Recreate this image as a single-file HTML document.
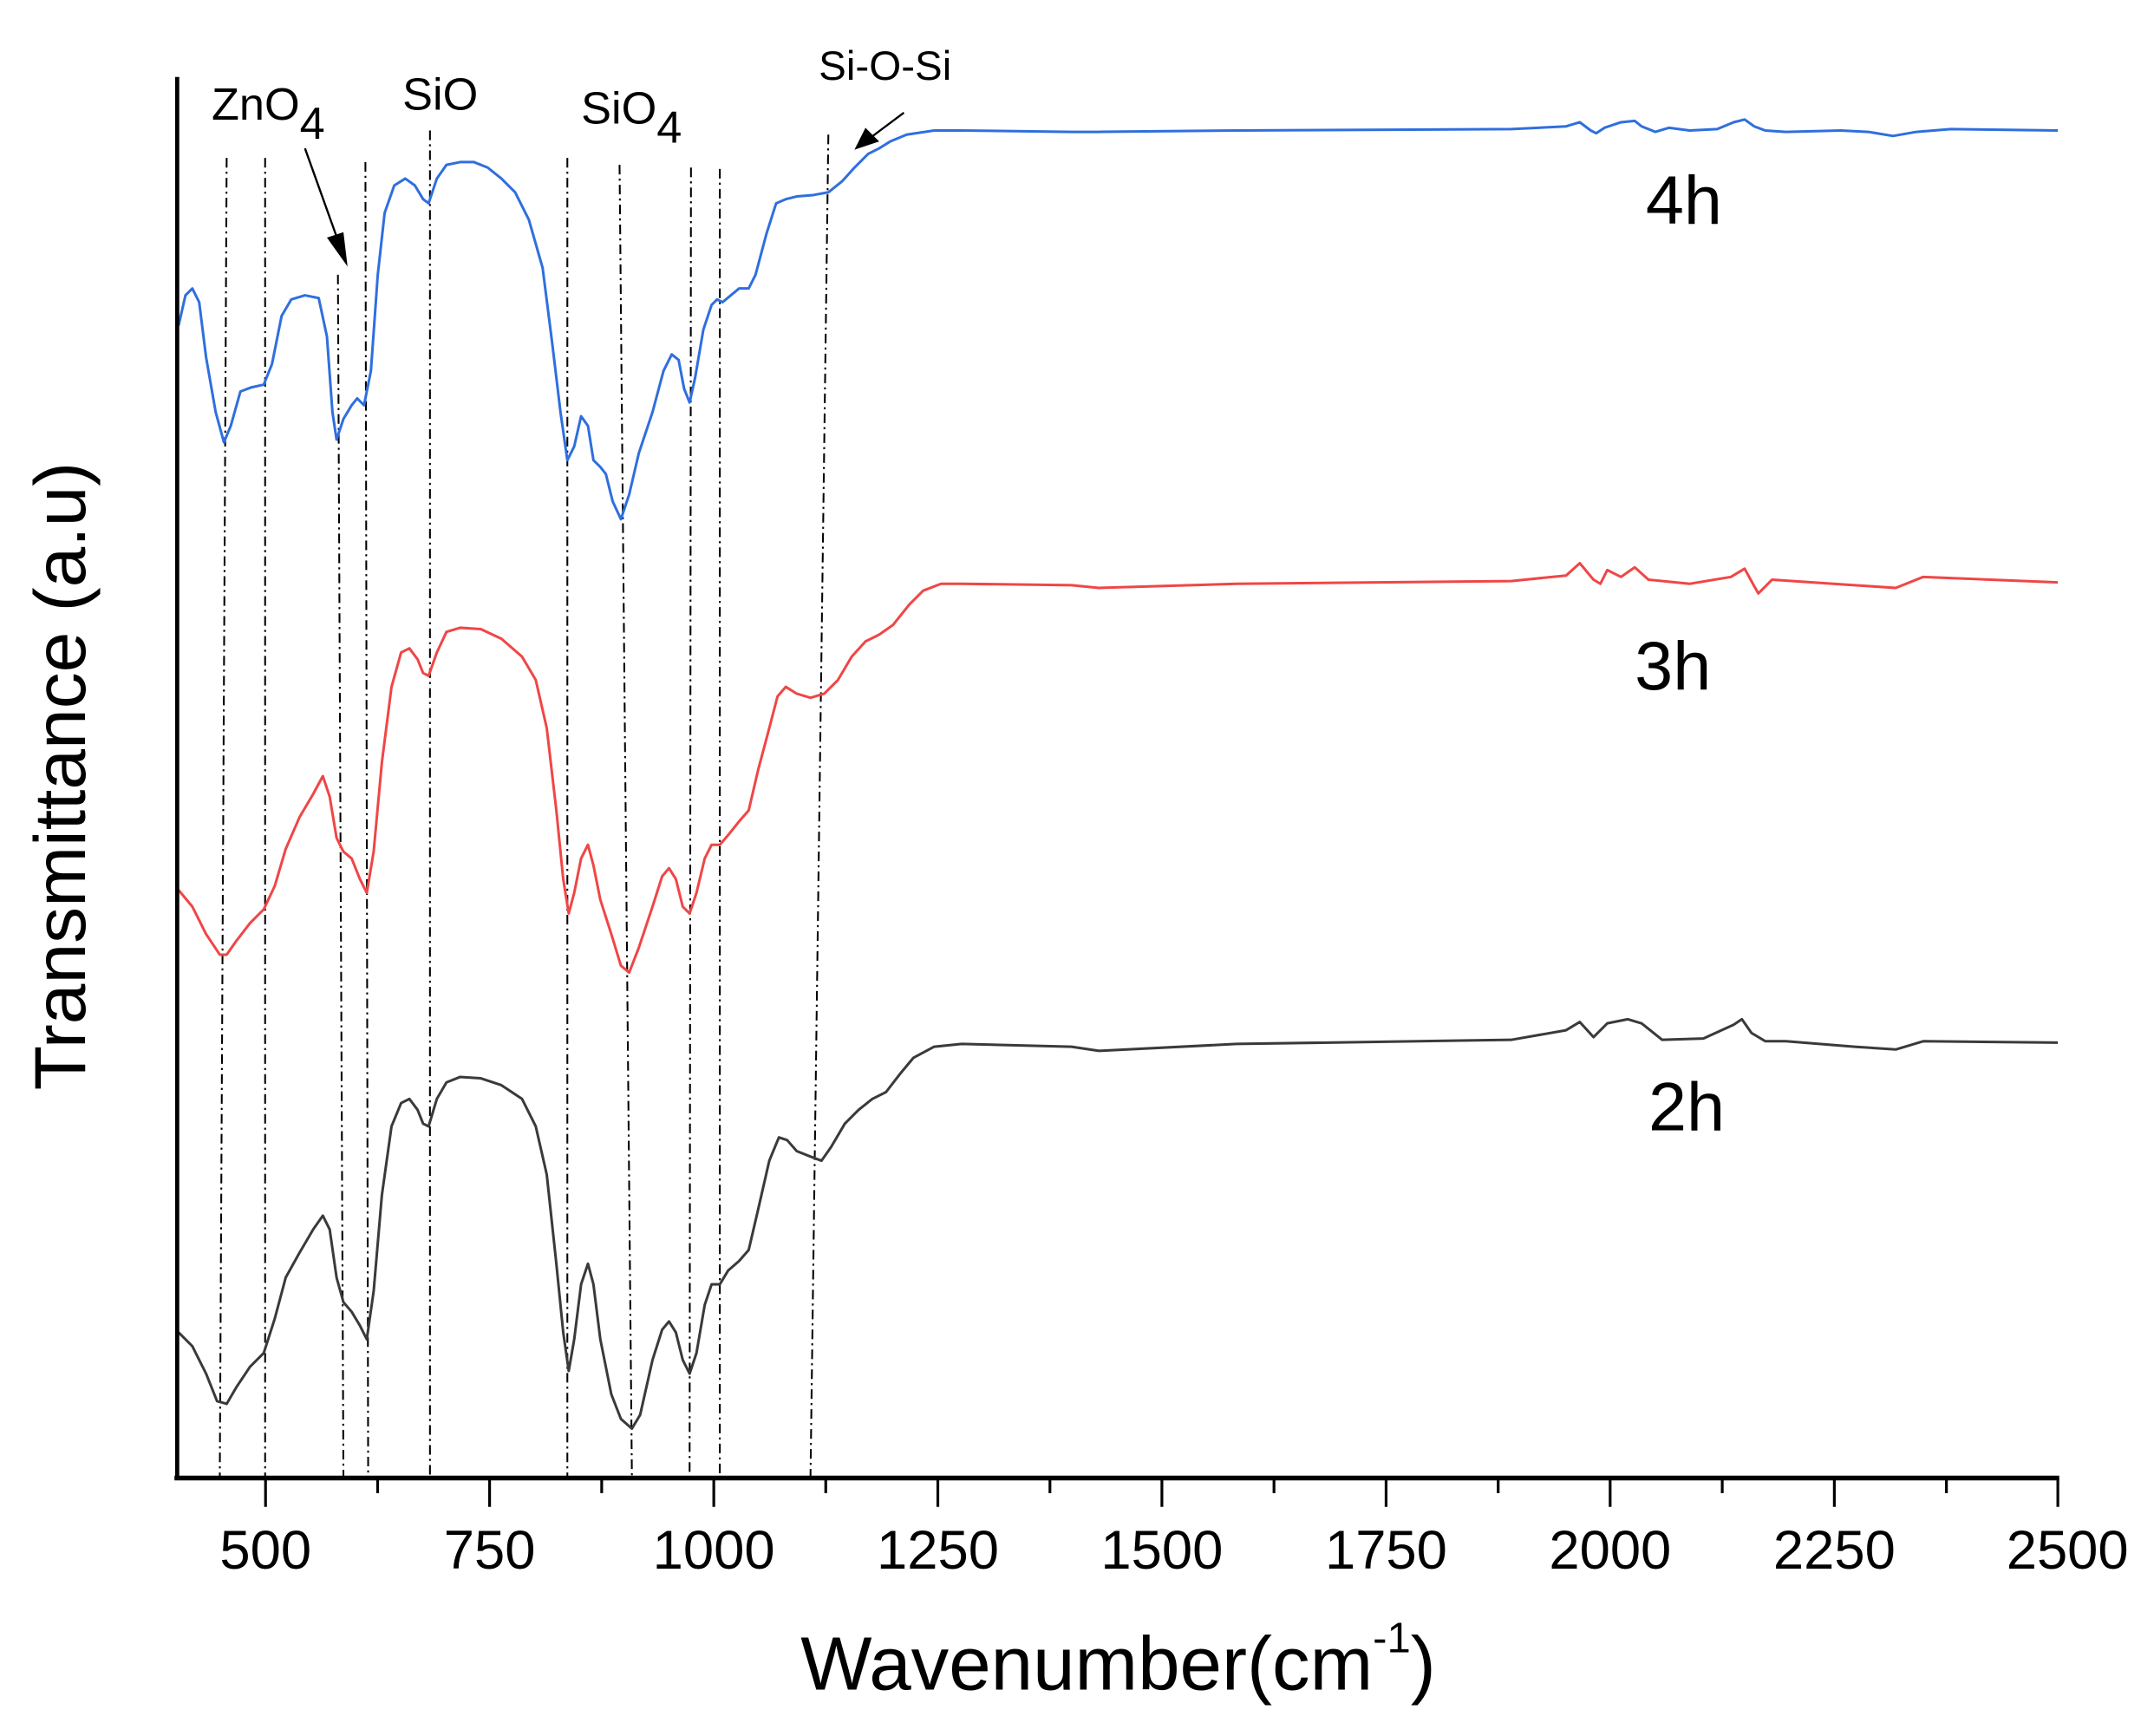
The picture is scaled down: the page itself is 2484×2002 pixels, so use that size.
<!DOCTYPE html>
<html><head><meta charset="utf-8"><style>
html,body{margin:0;padding:0;background:#fff;}
svg{display:block;}
text{font-family:"Liberation Sans",Arial,sans-serif;fill:#000;}
</style></head><body>
<svg width="2484" height="2002" viewBox="0 0 1568 1263.8" preserveAspectRatio="none" xmlns="http://www.w3.org/2000/svg">
<g stroke="#000" stroke-width="1.3" stroke-dasharray="7,3,1.5,3" fill="none">
<line x1="165" y1="115" x2="160" y2="1075"/>
<line x1="193" y1="115" x2="193" y2="1075"/>
<line x1="246" y1="200" x2="250" y2="1075"/>
<line x1="266" y1="118" x2="268" y2="1075"/>
<line x1="313" y1="95" x2="313" y2="1075"/>
<line x1="413" y1="115" x2="413" y2="1075"/>
<line x1="451" y1="120" x2="460" y2="1075"/>
<line x1="503" y1="122" x2="502" y2="1075"/>
<line x1="524" y1="123" x2="524" y2="1075"/>
<line x1="603" y1="98" x2="590" y2="1075"/>
</g>
<g fill="none" stroke-width="1.9" stroke-linejoin="round">
<polyline stroke="#2f6fde" points="130,237 135,215 140,210 145,220 150,260 157,300 163,322 168,310 175,285 183,282 192,280 198,265 205,230 212,218 222,215 232,217 238,245 242,300 245,320 250,305 256,295 260,290 265,295 270,270 275,200 280,155 287,135 295,130 302,135 308,145 312,148 318,130 325,120 335,118 345,118 355,122 365,130 375,140 385,160 395,195 402,250 408,300 413,335 418,325 423,303 428,310 432,335 437,340 441,345 446,365 452,378 458,360 465,330 475,300 483,270 489,258 494,262 498,283 502,293 506,275 512,240 518,222 522,218 526,220 532,215 538,210 545,210 550,200 558,170 565,148 572,145 580,143 592,142 603,140 613,132 622,122 632,112 640,108 648,103 660,98 680,95 700,95 780,96 800,96 900,95 1100,94 1140,92 1150,89 1158,95 1162,97 1168,93 1180,89 1190,88 1195,92 1205,96 1215,93 1230,95 1250,94 1262,89 1270,87 1277,92 1285,95 1300,96 1340,95 1360,96 1378,99 1395,96 1420,94 1498,95"/>
<polyline stroke="#f04646" points="130,648 140,660 150,680 160,695 165,695 172,685 182,672 192,662 200,645 208,618 218,595 228,578 235,565 240,580 245,610 250,620 256,625 262,640 267,650 272,620 278,555 285,500 292,475 298,472 304,480 308,490 312,492 318,475 325,460 335,457 350,458 365,465 380,478 390,495 398,530 405,590 410,640 414,665 418,650 423,625 428,615 432,630 437,655 445,680 452,703 458,708 465,690 475,660 482,638 487,632 492,640 497,660 502,665 507,650 513,625 518,615 524,615 530,608 538,598 545,590 552,560 560,530 566,507 572,500 580,505 590,508 600,505 610,495 620,478 630,467 640,462 650,455 662,440 672,430 685,425 700,425 780,426 800,428 900,425 1100,423 1140,419 1150,410 1160,422 1165,425 1170,415 1180,420 1190,413 1200,422 1230,425 1260,420 1270,414 1276,425 1280,432 1290,422 1350,426 1380,428 1400,420 1498,424"/>
<polyline stroke="#3a3a3a" points="130,970 140,980 150,1000 158,1020 165,1022 172,1010 182,995 192,985 200,960 208,930 218,912 228,895 235,885 240,895 245,930 250,948 256,955 262,965 267,975 272,940 278,870 285,820 292,803 298,800 304,808 308,818 312,820 318,800 325,788 335,784 350,785 365,790 380,800 390,820 398,855 405,920 410,970 414,998 418,975 423,935 428,920 432,935 437,975 445,1015 452,1033 460,1040 466,1030 475,990 482,968 487,962 492,970 497,990 502,1000 507,985 513,950 518,935 524,935 530,925 538,918 545,910 552,880 560,845 567,828 573,830 580,838 590,842 598,845 605,835 615,818 625,808 635,800 645,795 655,782 665,770 680,762 700,760 780,762 800,765 900,760 1100,757 1140,750 1150,744 1160,755 1170,745 1185,742 1195,745 1210,757 1240,756 1262,746 1268,742 1275,752 1285,758 1300,758 1350,762 1380,764 1400,758 1498,759"/>
</g>
<line x1="129" y1="56" x2="129" y2="1077" stroke="#000" stroke-width="3"/>
<line x1="127" y1="1076" x2="1499" y2="1076" stroke="#000" stroke-width="3.5"/>
<g stroke="#000" stroke-width="2">
<line x1="193.3" y1="1076" x2="193.3" y2="1097"/><line x1="356.4" y1="1076" x2="356.4" y2="1097"/><line x1="519.6" y1="1076" x2="519.6" y2="1097"/><line x1="682.7" y1="1076" x2="682.7" y2="1097"/><line x1="845.8" y1="1076" x2="845.8" y2="1097"/><line x1="1009" y1="1076" x2="1009" y2="1097"/><line x1="1172.1" y1="1076" x2="1172.1" y2="1097"/><line x1="1335.3" y1="1076" x2="1335.3" y2="1097"/><line x1="1498" y1="1076" x2="1498" y2="1097"/>
<line x1="274.9" y1="1076" x2="274.9" y2="1087"/><line x1="438" y1="1076" x2="438" y2="1087"/><line x1="601.1" y1="1076" x2="601.1" y2="1087"/><line x1="764.3" y1="1076" x2="764.3" y2="1087"/><line x1="927.4" y1="1076" x2="927.4" y2="1087"/><line x1="1090.6" y1="1076" x2="1090.6" y2="1087"/><line x1="1253.7" y1="1076" x2="1253.7" y2="1087"/><line x1="1416.9" y1="1076" x2="1416.9" y2="1087"/>
</g>
<g font-size="40" text-anchor="middle">
<text x="193.3" y="1142">500</text><text x="356.4" y="1142">750</text><text x="519.6" y="1142">1000</text><text x="682.7" y="1142">1250</text><text x="845.8" y="1142">1500</text><text x="1009" y="1142">1750</text><text x="1172.1" y="1142">2000</text><text x="1335.3" y="1142">2250</text><text x="1505" y="1142">2500</text>
</g>
<text x="814" y="1230" font-size="55" text-anchor="middle">Wavenumber(cm<tspan font-size="31" dy="-27">-1</tspan><tspan dy="27">)</tspan></text>
<text transform="translate(62,565) rotate(-90)" font-size="53" text-anchor="middle">Transmittance (a.u)</text>
<text x="154" y="87" font-size="33">ZnO<tspan dy="14">4</tspan></text>
<text x="293" y="80" font-size="33">SiO</text>
<text x="423" y="90" font-size="33">SiO<tspan dy="14">4</tspan></text>
<text x="596" y="58" font-size="30">Si-O-Si</text>
<text x="1198" y="163" font-size="50">4h</text>
<text x="1190" y="502" font-size="50">3h</text>
<text x="1200" y="823" font-size="50">2h</text>
<g stroke="#000" stroke-width="1.5">
<line x1="222" y1="108" x2="246" y2="175"/>
<line x1="658" y1="82" x2="634" y2="100"/>
</g>
<polygon points="253,194 238,173 250,169" fill="#000"/>
<polygon points="622,109 630,93 640,103" fill="#000"/>
</svg>
</body></html>
